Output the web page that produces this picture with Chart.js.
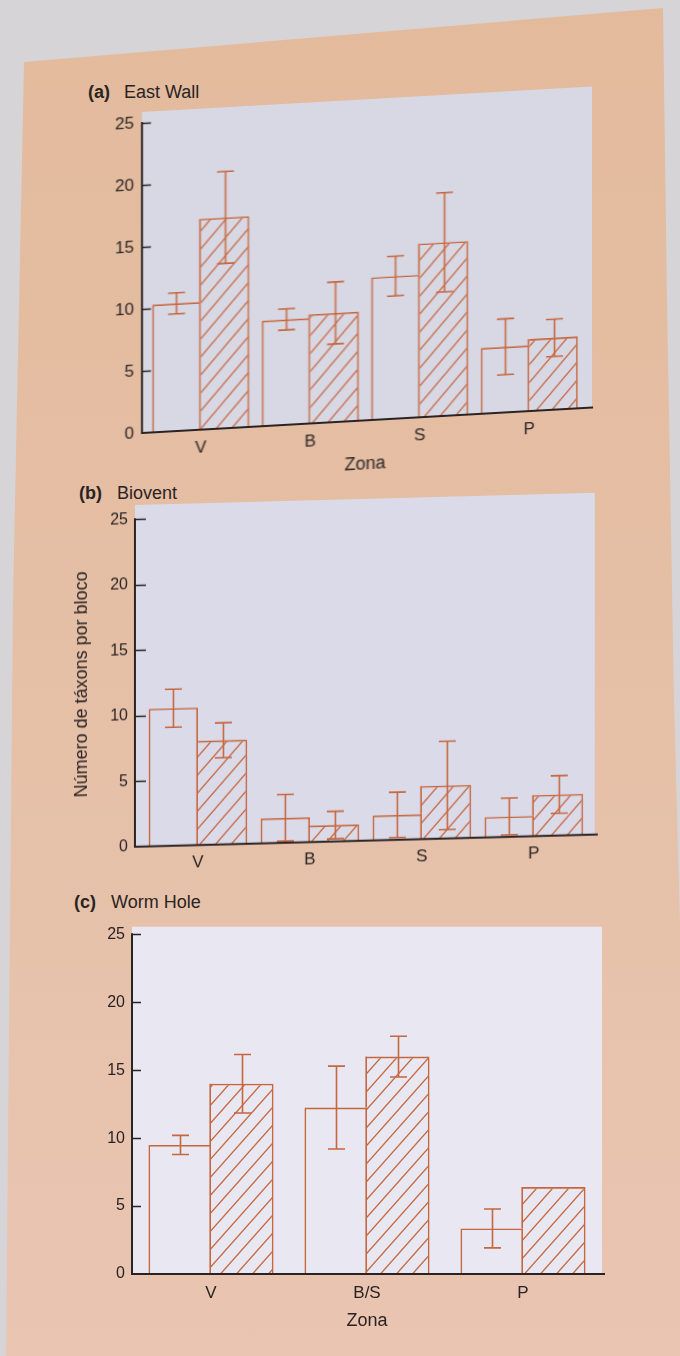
<!DOCTYPE html>
<html>
<head>
<meta charset="utf-8">
<title>Número de táxons por bloco</title>
<script src="https://cdn.jsdelivr.net/npm/chart.js@4.4.1/dist/chart.umd.min.js"></script>
<style>
  html, body { margin: 0; padding: 0; }
  body {
    width: 680px; height: 1356px; position: relative; overflow: hidden;
    background: #d6d4d7;
    font-family: "Liberation Sans", Arial, sans-serif;
  }
  #page {
    position: absolute; left: 0; top: 0; width: 680px; height: 1356px;
    background: linear-gradient(#e3ba9c, #e5bfa5 45%, #e9c5b2);
    clip-path: polygon(24px 62px, 663px 8px, 667px 300px, 674px 700px, 682px 1000px, 690px 1356px, 6px 1356px, 13px 600px);
  }
  .ttl { position: absolute; font-size: 18px; line-height: 1; color: #2a2323; white-space: nowrap; }
  .ttl b { display: inline-block; }
  canvas { position: absolute; left: 0; }
</style>
</head>
<body>
<div id="page"></div>

<div class="ttl" style="left:88px;top:83px"><b style="width:36px">(a)</b>East Wall</div>
<div class="ttl" style="left:79px;top:484px"><b style="width:38px">(b)</b>Biovent</div>
<div class="ttl" style="left:74px;top:893px"><b style="width:37px">(c)</b>Worm Hole</div>

<canvas id="eastWall" width="680" height="400" style="top:100px"></canvas>
<canvas id="biovent" width="680" height="385" style="top:495px"></canvas>
<canvas id="wormHole" width="680" height="446" style="top:910px"></canvas>

<script>
// ---- data: mean taxa per block and error half-widths, per zone ----
const yTicks = [0, 5, 10, 15, 20, 25];

const eastWallZones = ['V', 'B', 'S', 'P'];
const eastWallOpen = [10.3, 8.5, 11.5, 5.3];
const eastWallOpenErr = [0.85, 0.85, 1.6, 2.25];
const eastWallHatched = [17.0, 8.8, 14.0, 5.8];
const eastWallHatchedErr = [3.7, 2.5, 4.0, 1.5];

const bioventZones = ['V', 'B', 'S', 'P'];
const bioventOpen = [10.5, 1.9, 1.9, 1.55];
const bioventOpenErr = [1.45, 1.78, 1.73, 1.4];
const bioventHatched = [7.95, 1.25, 4.05, 3.13];
const bioventHatchedErr = [1.33, 1.05, 3.37, 1.44];

const wormHoleZones = ['V', 'B/S', 'P'];
const wormHoleOpen = [9.5, 12.25, 3.35];
const wormHoleOpenErr = [0.7, 3.05, 1.43];
const wormHoleHatched = [14.0, 16.0, 6.4];
const wormHoleHatchedErr = [2.15, 1.5, null];

// ---- styling ----
const INK = '#2a2323';
const BAR = '#c5673f';
const LW = 1.6;
const FONT = '"Liberation Sans", Arial, sans-serif';
Chart.defaults.font.family = FONT;
Chart.defaults.color = INK;

function hatchPattern(color) {
  const w = 16, h = 18;
  const c = document.createElement('canvas');
  c.width = w; c.height = h;
  const g = c.getContext('2d');
  g.strokeStyle = color;
  g.lineWidth = 1.3;
  g.beginPath();
  for (const k of [-1, 0, 1]) {
    g.moveTo(-1, h + k * h + h / w);
    g.lineTo(w + 1, k * h - h / w);
  }
  g.stroke();
  return g.createPattern(c, 'repeat');
}

// plot backdrop, shared bar edges, error bars, axis lines with inward ticks
const framePlugin = {
  id: 'frame',
  beforeDraw(chart, args, o) {
    const ctx = chart.ctx, y = chart.scales.y;
    ctx.save();
    ctx.fillStyle = o.plotColor;
    ctx.fillRect(o.axisX, o.plotTop, o.plotRight - o.axisX, y.getPixelForValue(0) - o.plotTop);
    ctx.restore();
  },
  afterDatasetsDraw(chart, args, o) {
    const ctx = chart.ctx, y = chart.scales.y;
    ctx.save();
    ctx.strokeStyle = BAR;
    ctx.lineWidth = LW;

    // the open bar owns the shared edge; extend it where the hatched bar is taller
    const openBars = chart.getDatasetMeta(0).data;
    const openVals = chart.data.datasets[0].data;
    const hatchVals = chart.data.datasets[1].data;
    openBars.forEach((bar, i) => {
      if (hatchVals[i] <= openVals[i]) return;
      const x = bar.x + bar.width / 2 - LW / 2;
      ctx.beginPath();
      ctx.moveTo(x, y.getPixelForValue(hatchVals[i]));
      ctx.lineTo(x, y.getPixelForValue(openVals[i]));
      ctx.stroke();
    });

    chart.data.datasets.forEach((ds, d) => {
      const errs = o.errors[d];
      chart.getDatasetMeta(d).data.forEach((bar, i) => {
        const e = errs[i];
        if (e == null) return;
        const v = ds.data[i];
        const top = y.getPixelForValue(v + e);
        const bot = y.getPixelForValue(Math.max(v - e, 0));
        const x = Math.round(bar.x) + 0.5;
        ctx.beginPath();
        ctx.moveTo(x, top); ctx.lineTo(x, bot);
        ctx.moveTo(x - o.cap, top); ctx.lineTo(x + o.cap, top);
        ctx.moveTo(x - o.cap, bot); ctx.lineTo(x + o.cap, bot);
        ctx.stroke();
      });
    });
    ctx.restore();
  },
  afterDraw(chart, args, o) {
    const ctx = chart.ctx, y = chart.scales.y;
    const y0 = y.getPixelForValue(0), yMax = y.getPixelForValue(yTicks[yTicks.length - 1]);
    ctx.save();
    ctx.strokeStyle = INK;
    ctx.lineWidth = 2;
    ctx.beginPath();
    ctx.moveTo(o.axisX, yMax - 1);
    ctx.lineTo(o.axisX, y0);
    ctx.lineTo(o.axisRight, y0);
    ctx.stroke();
    ctx.lineWidth = 1.6;
    ctx.beginPath();
    yTicks.forEach(v => {
      if (v === 0) return;
      const py = Math.round(y.getPixelForValue(v)) + 0.5;
      ctx.moveTo(o.axisX, py);
      ctx.lineTo(o.axisX + o.tickLen, py);
    });
    ctx.stroke();
    ctx.restore();
  }
};

function buildChart(id, zones, open, openErr, hatched, hatchedErr, L) {
  const canvas = document.getElementById(id);
  const H = canvas.height;
  const local = v => v - L.top;
  canvas.style.transformOrigin = L.axisX + 'px ' + local(L.y0) + 'px';
  if (L.skew) canvas.style.transform = 'skewY(' + (-L.skew) + 'deg)';

  return new Chart(canvas, {
    type: 'bar',
    data: {
      labels: zones,
      datasets: [
        {
          label: 'aberto',
          data: open,
          backgroundColor: 'rgba(0,0,0,0)',
          borderColor: BAR,
          borderWidth: { top: LW, left: LW, right: LW, bottom: 0 },
          borderSkipped: 'start',
          categoryPercentage: L.catPct,
          barPercentage: 1
        },
        {
          label: 'hachurado',
          data: hatched,
          backgroundColor: hatchPattern(BAR),
          borderColor: BAR,
          borderWidth: { top: LW, left: 0, right: LW, bottom: 0 },
          borderSkipped: 'start',
          categoryPercentage: L.catPct,
          barPercentage: 1
        }
      ]
    },
    options: {
      responsive: false,
      animation: false,
      events: [],
      layout: { padding: { left: 0, right: 680 - L.catRight, top: local(L.y25), bottom: 0 } },
      plugins: {
        legend: { display: false },
        tooltip: { enabled: false },
        frame: {
          plotColor: L.plotColor,
          axisX: L.axisX,
          plotTop: local(L.plotTop),
          plotRight: L.plotRight,
          axisRight: L.axisRight,
          tickLen: L.tickLen,
          cap: 8.5,
          errors: [openErr, hatchedErr]
        }
      },
      scales: {
        x: {
          grid: { display: false, drawTicks: false },
          border: { display: false },
          ticks: { font: { size: 17 }, color: INK, padding: L.xPad, maxRotation: 0 },
          title: L.xTitle
            ? { display: true, text: L.xTitle, font: { size: 18 }, color: INK, padding: { top: 0, bottom: L.xTitlePad } }
            : { display: false },
          afterFit: s => { s.height = H - local(L.y0); }
        },
        y: {
          min: 0,
          max: 25,
          grid: { display: false, drawTicks: false },
          border: { display: false },
          ticks: { font: { size: L.yFont }, color: INK, padding: L.yPad },
          afterBuildTicks: s => { s.ticks = yTicks.map(v => ({ value: v })); },
          title: L.yTitle
            ? { display: true, text: L.yTitle, font: { size: 18 }, color: INK, padding: { top: L.yTitlePad, bottom: 0 } }
            : { display: false },
          afterFit: s => { s.width = L.catLeft; }
        }
      }
    },
    plugins: [framePlugin]
  });
}

buildChart('eastWall', eastWallZones, eastWallOpen, eastWallOpenErr, eastWallHatched, eastWallHatchedErr, {
  top: 100, axisX: 142, catLeft: 146, catRight: 584, y25: 123, y0: 433,
  plotTop: 112, plotRight: 592, axisRight: 593, plotColor: '#d8d8e4',
  tickLen: 9, skew: 3.24, catPct: 0.886, xPad: 8, yPad: 12, yFont: 17,
  xTitle: 'Zona', xTitlePad: 11.7
});

buildChart('biovent', bioventZones, bioventOpen, bioventOpenErr, bioventHatched, bioventHatchedErr, {
  top: 495, axisX: 135, catLeft: 142, catRight: 590, y25: 519.3, y0: 846.7,
  plotTop: 505, plotRight: 595, axisRight: 598, plotColor: '#dbdae8',
  tickLen: 11, skew: 1.52, catPct: 0.881, xPad: 7, yPad: 14, yFont: 16,
  yTitle: 'Número de táxons por bloco', yTitlePad: 71
});

buildChart('wormHole', wormHoleZones, wormHoleOpen, wormHoleOpenErr, wormHoleHatched, wormHoleHatchedErr, {
  top: 910, axisX: 132, catLeft: 133, catRight: 601, y25: 934.3, y0: 1274,
  plotTop: 926.7, plotRight: 602, axisRight: 605, plotColor: '#e9e7f1',
  tickLen: 9, skew: 0, catPct: 0.802, xPad: 9, yPad: 8, yFont: 16,
  xTitle: 'Zona', xTitlePad: 24.5
});
</script>
</body>
</html>
